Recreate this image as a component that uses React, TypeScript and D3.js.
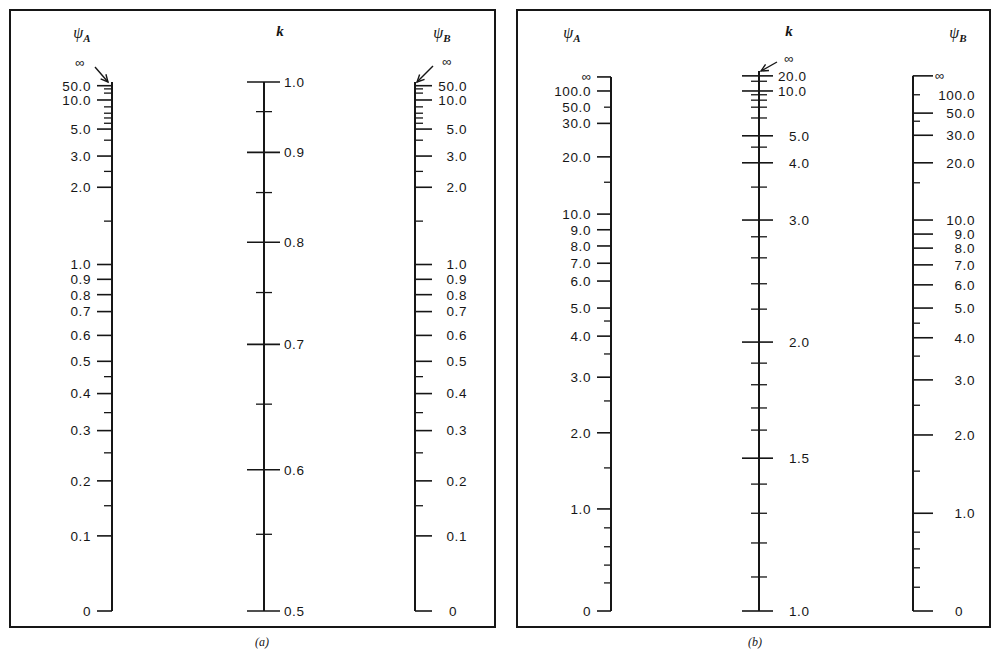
import React from "react";
import * as d3 from "d3";

// ---------- (a) braced frames ----------
// psi scale: tick values and where each one sits on the ruler (0 = bottom, 1 = top)
const psiTicksA = [0, 0.1, 0.15, 0.2, 0.25, 0.3, 0.35, 0.4, 0.45, 0.5, 0.6, 0.7, 0.8, 0.9, 1, 1.5, 2, 2.5, 3, 4, 5, 6, 7, 8, 9, 10, 20, 30, 50];
const psiRulerA = [0, 0.142, 0.199, 0.246, 0.299, 0.341, 0.375, 0.411, 0.443, 0.472, 0.521, 0.566, 0.598, 0.627, 0.655, 0.737, 0.801, 0.831, 0.86, 0.89, 0.911, 0.922, 0.932, 0.941, 0.953, 0.966, 0.979, 0.987, 0.993];
const psiLabelsA = [0, 0.1, 0.2, 0.3, 0.4, 0.5, 0.6, 0.7, 0.8, 0.9, 1, 2, 3, 5, 10, 50];

const kTicksA = [0.5, 0.55, 0.6, 0.65, 0.7, 0.75, 0.8, 0.85, 0.9, 0.95, 1.0];
const kRulerA = [0, 0.145, 0.267, 0.391, 0.504, 0.602, 0.697, 0.791, 0.867, 0.944, 1];
const kLabelsA = [0.5, 0.6, 0.7, 0.8, 0.9, 1.0];

// ---------- (b) unbraced frames ----------
const psiTicksB = [0, 0.2, 0.4, 0.6, 0.8, 1, 1.5, 2, 2.5, 3, 3.5, 4, 4.5, 5, 6, 7, 8, 9, 10, 15, 20, 30, 50, 100];
const psiARulerB = [0, 0.052, 0.085, 0.119, 0.154, 0.189, 0.265, 0.33, 0.389, 0.433, 0.476, 0.509, 0.537, 0.561, 0.611, 0.644, 0.676, 0.706, 0.735, 0.794, 0.841, 0.903, 0.933, 0.963];
const psiBTicksB = [0, 0.2, 0.4, 0.6, 0.8, 1, 1.5, 2, 2.5, 3, 3.5, 4, 4.5, 5, 6, 7, 8, 9, 10, 15, 20, 30, 40, 50, 100];
const psiBRulerB = [0, 0.044, 0.08, 0.115, 0.146, 0.181, 0.259, 0.326, 0.381, 0.428, 0.472, 0.506, 0.533, 0.561, 0.604, 0.641, 0.672, 0.698, 0.724, 0.793, 0.83, 0.881, 0.907, 0.922, 0.956];
const psiLabelsB = [0, 1, 2, 3, 4, 5, 6, 7, 8, 9, 10, 20, 30, 50, 100];
const psiAShortB = [50];
const psiBShortB = [100];
const psiAInfB = 0.989;
const psiBInfB = 0.991;

const kTicksB = [1, 1.1, 1.2, 1.3, 1.4, 1.5, 1.6, 1.7, 1.8, 1.9, 2, 2.2, 2.4, 2.6, 2.8, 3, 3.5, 4, 4.5, 5, 6, 7, 8, 9, 10, 15, 20];
const kRulerB = [0, 0.063, 0.126, 0.181, 0.235, 0.283, 0.335, 0.376, 0.419, 0.459, 0.498, 0.559, 0.606, 0.654, 0.693, 0.724, 0.785, 0.83, 0.859, 0.88, 0.913, 0.933, 0.946, 0.956, 0.963, 0.981, 0.991];
const kLabelsB = [1, 1.5, 2, 3, 4, 5, 10, 20];

const INK = "#161616";
const NUM_FONT = "'Liberation Sans', Arial, Helvetica, sans-serif";
const SERIF = "'Liberation Serif', 'Times New Roman', serif";
const NUM_SIZE = 13.5;

const fmt = (v: number) => (v === 0 ? "0" : d3.format(".1f")(v));

function Arrow({ x1, y1, x2, y2 }: { x1: number; y1: number; x2: number; y2: number }) {
  const a = Math.atan2(y2 - y1, x2 - x1);
  const len = 8;
  const h1 = [x2 - len * Math.cos(a - 0.45), y2 - len * Math.sin(a - 0.45)];
  const h2 = [x2 - len * Math.cos(a + 0.45), y2 - len * Math.sin(a + 0.45)];
  return (
    <g stroke={INK} strokeWidth={1.4} fill="none">
      <line x1={x1} y1={y1} x2={x2} y2={y2} />
      <polyline points={`${h1[0]},${h1[1]} ${x2},${y2} ${h2[0]},${h2[1]}`} />
    </g>
  );
}

function Header({ x, y, sub }: { x: number; y: number; sub?: string }) {
  if (!sub) {
    return (
      <text x={x} y={y} fontFamily={SERIF} fontStyle="italic" fontWeight="bold" fontSize={15} fill={INK} textAnchor="middle">
        k
      </text>
    );
  }
  return (
    <text x={x} y={y} fontFamily={SERIF} fontStyle="italic" fontSize={16} fill={INK} textAnchor="middle">
      ψ
      <tspan fontSize={11} fontWeight="bold" dy={4}>
        {sub}
      </tspan>
    </text>
  );
}

type ScaleProps = {
  x: number;
  ticks: number[];
  ruler: number[];
  labels: number[];
  y: d3.ScaleLinear<number, number>;
  top: number; // ruler fraction where the line ends
  side: "left" | "right" | "cross";
  majorLen: [number, number];
  minorLen: [number, number];
  labelX: (v: number) => number;
  anchor: string;
  short?: number[];
  infTick?: boolean;
  infLabelX?: number;
  infAnchor?: string;
};

function Scale(p: ScaleProps) {
  const ruler = d3.scaleLinear().domain(p.ticks).range(p.ruler);
  const pos = (v: number) => p.y(ruler(v));
  const yTop = p.y(p.top);
  return (
    <g>
      <line x1={p.x} x2={p.x} y1={p.y(0)} y2={yTop} stroke={INK} strokeWidth={2} />
      {p.ticks.map((v) => {
        const major = p.labels.includes(v) && !(p.short || []).includes(v);
        const [l, r] = major ? p.majorLen : p.minorLen;
        const yy = pos(v);
        return (
          <line
            key={"t" + v}
            x1={p.x - l}
            x2={p.x + r}
            y1={yy}
            y2={yy}
            stroke={INK}
            strokeWidth={major ? 1.6 : 1.3}
          />
        );
      })}
      {p.labels.map((v) => (
        <text
          key={"l" + v}
          x={p.labelX(v)}
          y={pos(v)}
          dy="0.36em"
          fontFamily={NUM_FONT}
          fontSize={NUM_SIZE}
          letterSpacing={0.6}
          fill={INK}
          textAnchor={p.anchor}
        >
          {fmt(v)}
        </text>
      ))}
      {p.infTick && (
        <g>
          <line
            x1={p.side === "left" ? p.x - p.majorLen[0] : p.x}
            x2={p.side === "left" ? p.x : p.x + p.majorLen[1]}
            y1={yTop}
            y2={yTop}
            stroke={INK}
            strokeWidth={1.6}
          />
          <text
            x={p.infLabelX}
            y={yTop}
            dy="0.3em"
            fontFamily={NUM_FONT}
            fontSize={13}
            fill={INK}
            textAnchor={p.infAnchor}
          >
            ∞
          </text>
        </g>
      )}
    </g>
  );
}

export default function App() {
  const W = 994;
  const H = 656;

  // vertical extent of the rulers in each panel
  const yA = d3.scaleLinear().domain([0, 1]).range([611, 82]);
  const yB = d3.scaleLinear().domain([0, 1]).range([611, 71]);

  const psiAx = 112;
  const kAx = 264;
  const psiBx = 415;
  const psiAxB = 611;
  const kAxB = 759;
  const psiBxB = 913;

  return (
    <svg width={W} height={H} style={{ position: "absolute", left: 0, top: 0, background: "#fff" }}>
      <rect x={0} y={0} width={W} height={H} fill="#fff" />

      {/* panel frames */}
      <rect x={10} y={10} width={485} height={617} fill="none" stroke={INK} strokeWidth={2} />
      <rect x={517} y={10} width={473} height={617} fill="none" stroke={INK} strokeWidth={2} />

      {/* ---------- (a) ---------- */}
      <Header x={82} y={38} sub="A" />
      <Header x={280} y={36} />
      <Header x={442} y={38} sub="B" />

      <Scale
        x={psiAx}
        ticks={psiTicksA}
        ruler={psiRulerA}
        labels={psiLabelsA}
        y={yA}
        top={1}
        side="left"
        majorLen={[15, 0]}
        minorLen={[8, 0]}
        labelX={() => psiAx - 21}
        anchor="end"
      />
      <text x={80} y={63} dy="0.3em" fontFamily={NUM_FONT} fontSize={13} fill={INK} textAnchor="middle">
        ∞
      </text>
      <Arrow x1={psiAx - 17} y1={yA(1) - 15} x2={psiAx - 4} y2={yA(1)} />

      <Scale
        x={kAx}
        ticks={kTicksA}
        ruler={kRulerA}
        labels={kLabelsA}
        y={yA}
        top={1}
        side="cross"
        majorLen={[17, 16]}
        minorLen={[8, 8]}
        labelX={() => kAx + 20}
        anchor="start"
      />

      <Scale
        x={psiBx}
        ticks={psiTicksA}
        ruler={psiRulerA}
        labels={psiLabelsA}
        y={yA}
        top={1}
        side="right"
        majorLen={[0, 17]}
        minorLen={[0, 8]}
        labelX={(v) => (v === 0 ? psiBx + 42 : psiBx + 52)}
        anchor="end"
      />
      <text x={447} y={62} dy="0.3em" fontFamily={NUM_FONT} fontSize={13} fill={INK} textAnchor="middle">
        ∞
      </text>
      <Arrow x1={psiBx + 18} y1={yA(1) - 16} x2={psiBx + 2} y2={yA(1)} />

      <text x={262} y={646} fontFamily={SERIF} fontStyle="italic" fontSize={12} fill={INK} textAnchor="middle">
        (a)
      </text>

      {/* ---------- (b) ---------- */}
      <Header x={572} y={38} sub="A" />
      <Header x={789} y={36} />
      <Header x={958} y={38} sub="B" />

      <Scale
        x={psiAxB}
        ticks={psiTicksB}
        ruler={psiARulerB}
        labels={psiLabelsB}
        y={yB}
        top={psiAInfB}
        side="left"
        majorLen={[14, 0]}
        minorLen={[7, 0]}
        labelX={() => psiAxB - 20}
        anchor="end"
        short={psiAShortB}
        infTick
        infLabelX={psiAxB - 20}
        infAnchor="end"
      />

      <Scale
        x={kAxB}
        ticks={kTicksB}
        ruler={kRulerB}
        labels={kLabelsB}
        y={yB}
        top={1}
        side="cross"
        majorLen={[17, 14]}
        minorLen={[8, 8]}
        labelX={(v) => (v >= 10 ? kAxB + 19 : kAxB + 30)}
        anchor="start"
      />
      <text x={789} y={59} dy="0.3em" fontFamily={NUM_FONT} fontSize={13} fill={INK} textAnchor="middle">
        ∞
      </text>
      <Arrow x1={kAxB + 18} y1={yB(1) - 9} x2={kAxB + 2} y2={yB(1)} />

      <Scale
        x={psiBxB}
        ticks={psiBTicksB}
        ruler={psiBRulerB}
        labels={psiLabelsB}
        y={yB}
        top={psiBInfB}
        side="right"
        majorLen={[0, 20]}
        minorLen={[0, 7]}
        labelX={(v) => (v === 0 ? psiBxB + 50 : psiBxB + 62)}
        anchor="end"
        short={psiBShortB}
        infTick
        infLabelX={psiBxB + 22}
        infAnchor="start"
      />

      <text x={755} y={646} fontFamily={SERIF} fontStyle="italic" fontSize={12} fill={INK} textAnchor="middle">
        (b)
      </text>
    </svg>
  );
}
